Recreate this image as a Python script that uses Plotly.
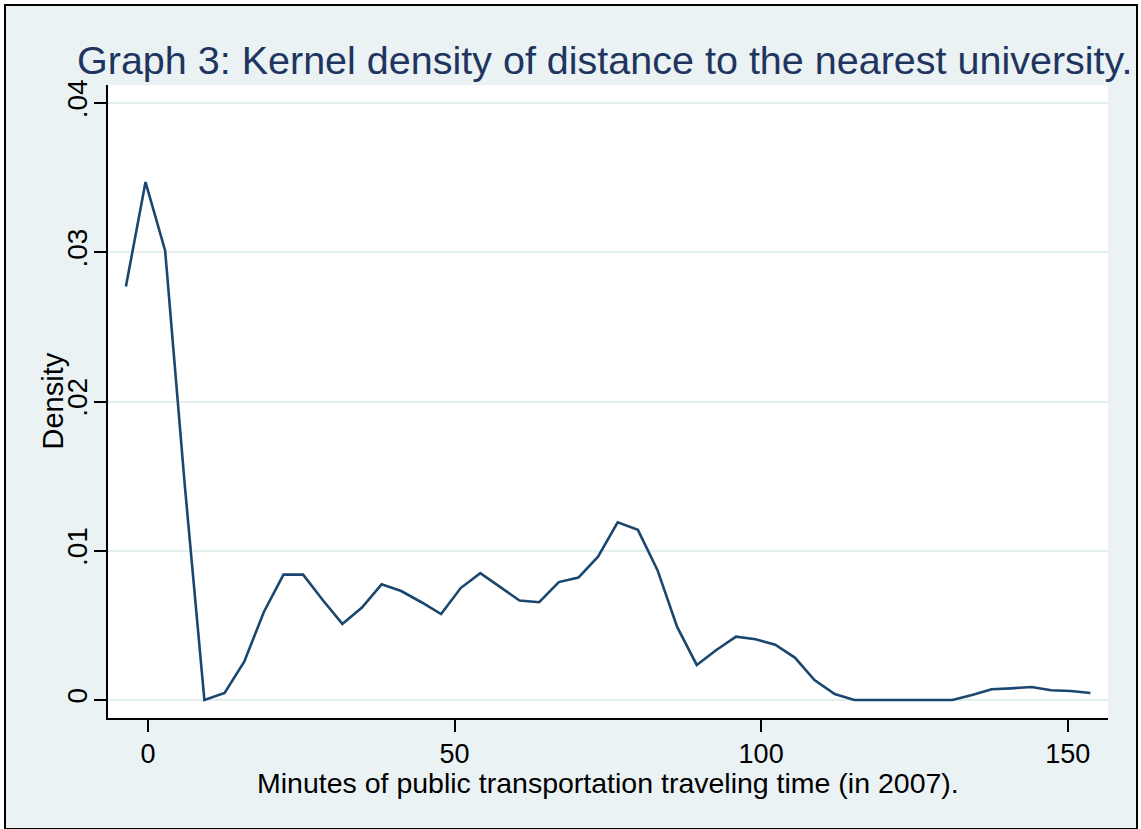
import plotly.graph_objects as go

# Kernel density estimate grid (minutes) and density values
minutes = [-3.6, -0.4, 2.8, 6.0, 9.2, 12.5, 15.7, 18.9, 22.1, 25.3,
           28.5, 31.7, 34.9, 38.1, 41.3, 44.6, 47.8, 51.0, 54.2, 57.4,
           60.6, 63.8, 67.0, 70.2, 73.4, 76.6, 79.9, 83.1, 86.3, 89.5,
           92.7, 95.9, 99.1, 102.3, 105.5, 108.7, 112.0, 115.2, 118.4, 121.6,
           124.8, 128.0, 131.2, 134.4, 137.6, 140.8, 144.1, 147.3, 150.5, 153.7]
density = [0.0277, 0.0347, 0.0301, 0.0144, 0.0000, 0.00047, 0.00257, 0.0059, 0.0084, 0.0084,
           0.0067, 0.0051, 0.0062, 0.00775, 0.0073, 0.00655, 0.00576, 0.0075, 0.0085, 0.0076,
           0.00666, 0.00655, 0.0079, 0.0082, 0.0096, 0.0119, 0.0114, 0.0087, 0.0049, 0.00235,
           0.00335, 0.00424, 0.00407, 0.0037, 0.00284, 0.00134, 0.0004, 0.0, 0.0, 0.0,
           0.0, 0.0, 0.0, 0.00034, 0.00072, 0.00078, 0.00087, 0.00065, 0.0006, 0.00047]

x_ticks = [0, 50, 100, 150]
x_tick_labels = ["0", "50", "100", "150"]
y_ticks = [0, 0.01, 0.02, 0.03, 0.04]
y_tick_labels = ["0", ".01", ".02", ".03", ".04"]

title_text = "Graph 3: Kernel density of distance to the nearest university."
x_title = "Minutes of public transportation traveling time (in 2007)."
y_title = "Density"

W, H = 1141, 829
L, R, T, B = 108, 33, 85, 111
pw, ph = W - L - R, H - T - B

BG = "#EAF2F3"
LINE = "#1a476f"
FONT = "Arial, Liberation Sans, sans-serif"

fig = go.Figure()
fig.add_trace(go.Scatter(x=minutes, y=density, mode="lines",
                         line=dict(color=LINE, width=2.6), hoverinfo="x+y",
                         showlegend=False))

def px_to_paper_x(px):
    return (px - L) / pw

def px_to_paper_y(py):
    return (H - B - py) / ph

shapes = [
    dict(type="rect", xref="paper", yref="paper", layer="below",
         x0=px_to_paper_x(5), x1=px_to_paper_x(1137),
         y0=px_to_paper_y(829), y1=px_to_paper_y(5),
         fillcolor=BG, line=dict(color="black", width=2)),
    dict(type="rect", xref="paper", yref="paper", layer="below",
         x0=0, x1=1, y0=0, y1=1, fillcolor="white", line=dict(width=0)),
]

annotations = [
    dict(text=x_title, xref="paper", yref="paper", x=0.5, y=px_to_paper_y(783),
         xanchor="center", yanchor="middle", showarrow=False,
         font=dict(size=28.5, family=FONT, color="black")),
    dict(text=y_title, xref="paper", yref="paper", x=px_to_paper_x(52), y=0.5,
         xanchor="center", yanchor="middle", showarrow=False, textangle=-90,
         font=dict(size=29, family=FONT, color="black")),
]

fig.update_layout(
    width=W, height=H,
    margin=dict(l=L, r=R, t=T, b=B, pad=0),
    paper_bgcolor="white",
    plot_bgcolor="white",
    shapes=shapes,
    annotations=annotations,
    font=dict(family=FONT, color="black"),
    title=dict(text=title_text, xref="container", yref="container",
               x=77 / W, xanchor="left", y=1 - 60 / H, yanchor="middle",
               font=dict(family=FONT, size=39.5, color="#1f3560")),
    xaxis=dict(range=[-6.52, 156.57], tickvals=x_ticks, ticktext=x_tick_labels,
               showgrid=False, zeroline=False, showline=True, linecolor="black",
               linewidth=1.5, ticks="outside", ticklen=12, tickwidth=1.5,
               tickcolor="black", ticklabelstandoff=-1,
               tickfont=dict(size=27, family=FONT)),
    yaxis=dict(range=[-0.001206, 0.041206], tickvals=y_ticks, ticktext=y_tick_labels,
               showgrid=True, gridcolor="#E4EDF0", gridwidth=2, zeroline=False,
               showline=True, linecolor="black", linewidth=1.5, ticks="outside",
               ticklen=12, tickwidth=1.5, tickcolor="black", tickangle=-90,
               ticklabelstandoff=-4,
               tickfont=dict(size=28, family=FONT)),
)

fig.write_html("out.html", config={"displayModeBar": False},
               post_script="document.body.style.margin='0';document.body.style.padding='0';")
